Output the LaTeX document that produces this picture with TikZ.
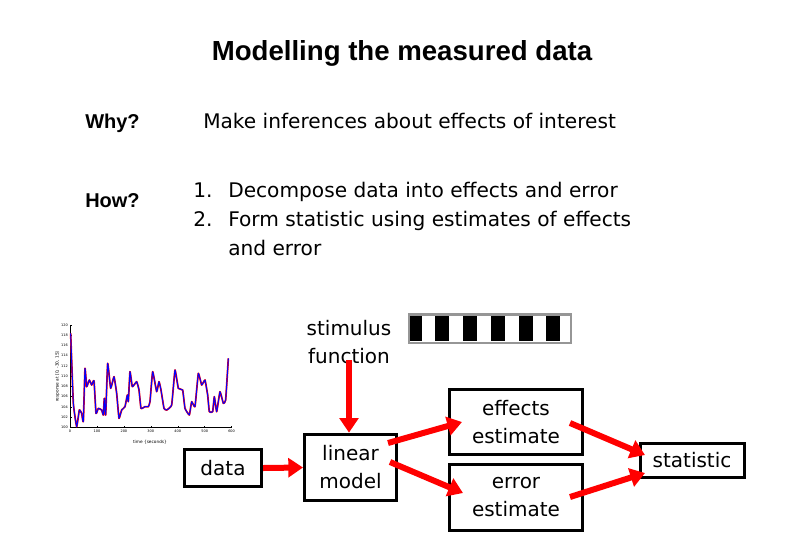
\documentclass[tikz,border=0pt]{standalone}
\usepackage{fontspec}
\setmainfont{DejaVu Sans}
\newfontfamily\titlefont{Liberation Sans}
\usetikzlibrary{arrows.meta,calc}
\tikzset{
  px/.style={x=0.75pt,y=-0.75pt},
  box/.style={draw,line width=2.25pt,inner sep=0pt,align=center,font=\fontsize{15}{21}\selectfont},
  arr/.style={draw=red,line width=4.5pt,-{Triangle[length=11pt,width=14pt]}},
  bodytxt/.style={anchor=base west,inner sep=0pt,font=\fontsize{15.1}{19}\selectfont},
  headtxt/.style={anchor=base west,inner sep=0pt,font=\titlefont\bfseries\fontsize{15}{18}\selectfont},
  tinytxt/.style={inner sep=0pt,font=\fontsize{2.6}{3}\selectfont},
}
\begin{document}
\begin{tikzpicture}[px]
\useasboundingbox (0,0) rectangle (810,540);
\fill[white] (0,0) rectangle (810,540);

% title
\node[inner sep=0pt,font=\titlefont\bfseries\fontsize{20.7}{24}\selectfont] (title) at (402,53) {Modelling the measured data};

% why / how
\node[headtxt] (why) at (85,128) {Why?};
\node[bodytxt] (whytxt) at (203,128) {Make inferences about effects of interest};
\node[headtxt] (how) at (85,207) {How?};
\node[bodytxt] (n1) at (193,197) {1.};
\node[bodytxt] (t1) at (228,197) {Decompose data into effects and error};
\node[bodytxt] (n2) at (193,226) {2.};
\node[bodytxt] (t2) at (228,226) {Form statistic using estimates of effects};
\node[bodytxt] (t3) at (228,255) {and error};

% stimulus function
\node[align=center,inner sep=0pt,font=\fontsize{15}{21}\selectfont] (stim) at (349,342) {stimulus\\function};
\begin{scope}
  \clip (410,316) rectangle (571,341);
  \foreach \i in {0,...,5} {
    \fill[black] ({407.7+27.7*\i},316) rectangle ({421.7+27.7*\i},341);
  }
\end{scope}
\node[draw={rgb,255:red,150;green,150;blue,150},line width=2pt,minimum width=121.5pt,minimum height=21.5pt,inner sep=0pt] (bar) at (490,328.5) {};

% boxes
\node[box,minimum width=58pt,minimum height=28pt] (data) at (223,468) {data};
\node[box,minimum width=69pt,minimum height=50pt] (linear) at (350.5,467.5) {linear\\model};
\node[box,minimum width=100pt,minimum height=49pt] (effects) at (516,422) {effects\\estimate};
\node[box,minimum width=100pt,minimum height=50pt] (error) at (516,497.5) {error\\estimate};
\node[box,minimum width=78pt,minimum height=26pt] (stat) at (692,460.5) {statistic};

% arrows
\draw[arr] (data.east) -- (linear.west);
\draw[arr] (stim.south) ++(0,-4) coordinate (stimout) (stimout) -- (stimout |- linear.north);
\draw[arr] ($(linear.center)+(37.5,-24.5)$) -- ($(effects.center)+(-54,0)$);
\draw[arr] ($(linear.center)+(39.5,-5.5)$) -- ($(error.center)+(-53,-4.5)$);
\draw[arr] ($(effects.center)+(54,1)$) -- ($(stat.center)+(-47,-5.5)$);
\draw[arr] ($(error.center)+(54,-0.5)$) -- ($(stat.center)+(-47,12.5)$);

% time series plot
\begin{scope}[shift={(40,310)},x=0.25pt,y=-0.25pt]
  \draw[line width=0.4pt] (90,45) -- (90,352) -- (575,352);
  \foreach \v [count=\k from 0] in {120,118,116,114,112,110,108,106,104,102,100} {
    \draw[line width=0.3pt] (90,{45+30.7*\k}) -- (95,{45+30.7*\k});
    \node[tinytxt,anchor=east] (yl\k) at (84,{45+30.7*\k}) {\v};
  }
  \foreach \v [count=\k from 0] in {0,100,200,300,400,500,600} {
    \draw[line width=0.3pt] ({90+80.8*\k},352) -- ({90+80.8*\k},347);
    \node[tinytxt,anchor=north] (xl\k) at ({90+80.8*\k},360) {\v};
  }
  \node[tinytxt,font=\fontsize{3.2}{4}\selectfont] (xlab) at (330,398) {time \{seconds\}};
  \node[tinytxt,font=\fontsize{3.2}{4}\selectfont,rotate=90] (ylab) at (52,200) {response at [0, -30, 15]};
  \def\sig{(92,70) (100,280) (110,350) (118,300) (125,310) (130,335) (135,175) (140,230) (148,210) (155,225) (162,212) (168,310) (175,295) (185,300) (190,315) (193,265) (197,315) (203,160) (212,235) (222,200) (230,250) (237,325) (245,300) (255,290) (262,255) (265,275) (270,185) (277,230) (290,215) (297,240) (303,295) (315,290) (325,290) (330,275) (338,185) (350,245) (357,215) (363,240) (372,295) (380,300) (395,285) (405,180) (415,235) (428,240) (435,295) (448,315) (455,275) (465,290) (475,190) (485,225) (495,210) (503,255) (508,305) (518,305) (523,260) (530,305) (540,245) (550,280) (557,270) (565,145)}
  \draw[red,line width=1.3pt,line join=round] plot[smooth,tension=0.2] coordinates {\sig};
  \draw[blue,line width=0.75pt,line join=round] plot[smooth,tension=0.2] coordinates {\sig};
\end{scope}
\end{tikzpicture}
\end{document}
